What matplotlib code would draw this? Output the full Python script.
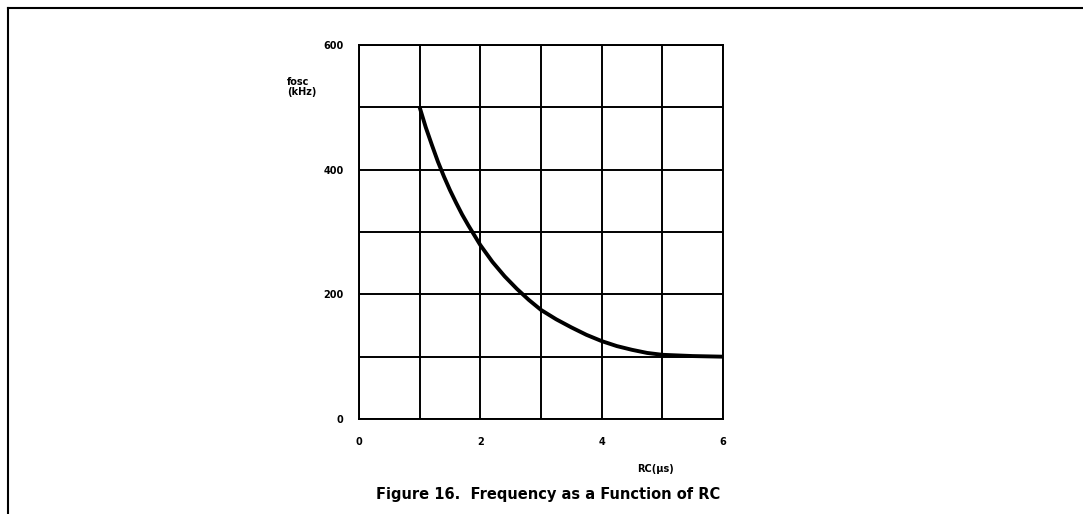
import numpy as np
import matplotlib
matplotlib.use("Agg")
import matplotlib.pyplot as plt
from matplotlib.lines import Line2D

# values
rc_us = [1.0, 1.1, 1.2, 1.3, 1.4, 1.5, 1.6, 1.7, 1.8, 1.9, 2.0, 2.2, 2.4, 2.6, 2.8,
         3.0, 3.25, 3.5, 3.75, 4.0, 4.25, 4.5, 4.75, 5.0, 5.5, 6.0]
fosc_khz = [500, 468, 440, 413, 389, 367, 347, 328, 311, 295, 279, 252, 229, 209, 191,
            175, 160, 147, 135, 125, 117, 111, 106, 103, 101, 100]

x_ticks = [0, 2, 4, 6]
y_ticks = [0, 200, 400, 600]

plt.rcParams['font.family'] = ['DejaVu Sans']
plt.rcParams['font.weight'] = 'bold'

fig = plt.figure(figsize=(10.83, 5.14), dpi=100)
ax = fig.add_axes([0.3315, 0.1848, 0.3361, 0.7276])

ax.set_xlim(0, 6)
ax.set_ylim(0, 600)
ax.set_xticks(range(0, 7))
ax.set_yticks(range(0, 601, 100))
ax.grid(True, color='black', linewidth=1.4)
ax.set_axisbelow(True)
for s in ax.spines.values():
    s.set_linewidth(1.4)
    s.set_color('black')

ax.set_xticklabels([str(v) if v in x_ticks else '' for v in range(0, 7)])
ax.set_yticklabels([str(v) if v in y_ticks else '' for v in range(0, 601, 100)])
ax.tick_params(length=0, labelsize=7)
for lab in ax.get_xticklabels() + ax.get_yticklabels():
    lab.set_fontweight('bold')
    lab.set_verticalalignment('baseline') if False else None
ax.tick_params(axis='x', pad=13)
ax.tick_params(axis='y', pad=11)

ax.plot(rc_us, fosc_khz, color='black', linewidth=2.8, solid_capstyle='butt', zorder=3)

# axis titles placed like the datasheet
fig.text(287 / 1083, 1 - 87 / 514, 'fosc\n(kHz)', fontsize=7, fontweight='bold',
         ha='left', va='center', linespacing=1.05)
fig.text(655 / 1083, 1 - 469 / 514, 'RC(\u00b5s)', fontsize=7, fontweight='bold',
         ha='center', va='center')
fig.text(548 / 1083, 1 - 494 / 514, 'Figure 16.  Frequency as a Function of RC',
         fontsize=10.5, fontweight='bold', ha='center', va='center')

# page frame
fig.add_artist(Line2D([8 / 1083, 1.0], [1 - 8 / 514, 1 - 8 / 514], color='black',
                      linewidth=1.5, transform=fig.transFigure))
fig.add_artist(Line2D([8 / 1083, 8 / 1083], [0.0, 1 - 8 / 514], color='black',
                      linewidth=1.5, transform=fig.transFigure))

fig.savefig('out.png', dpi=100)
